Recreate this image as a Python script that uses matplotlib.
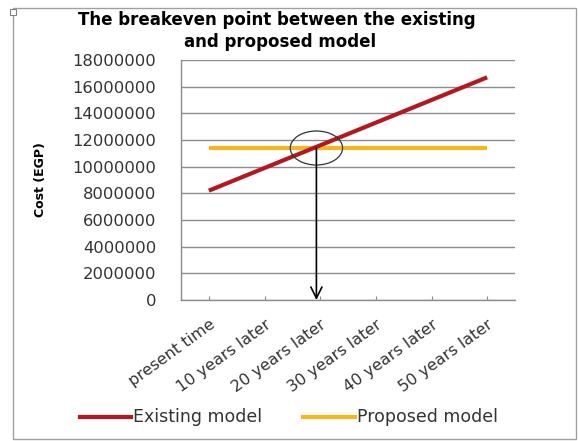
import matplotlib
matplotlib.use("Agg")
import matplotlib.pyplot as plt
from matplotlib.patches import Ellipse, Rectangle
import numpy as np

categories = ["present time", "10 years later", "20 years later",
              "30 years later", "40 years later", "50 years later"]
existing = [8200000, 9900000, 11600000, 13300000, 15000000, 16700000]
proposed = [11400000, 11400000, 11400000, 11400000, 11400000, 11400000]
yticks = [0, 2000000, 4000000, 6000000, 8000000, 10000000,
          12000000, 14000000, 16000000, 18000000]

RED = "#b5171e"
YEL = "#f4b81c"
GRID = "#8c8c8c"
FONT = ["DejaVu Sans"]

fig = plt.figure(figsize=(5.78, 4.41), dpi=100)
fig.patch.set_facecolor("white")
ax = fig.add_axes([181/578, 1-300/441, (515-181)/578, (300-60)/441])

x = np.arange(len(categories))
ax.plot(x, existing, color=RED, lw=3, solid_capstyle="butt", zorder=3)
ax.plot(x, proposed, color=YEL, lw=3, solid_capstyle="butt", zorder=2)

ax.set_xlim(-0.5, len(categories) - 0.5)
ax.set_ylim(0, 18000000)
ax.set_yticks(yticks)
ax.set_yticklabels([str(v) for v in yticks], fontsize=11.8, family=FONT, color="#333333")
ax.tick_params(axis="y", length=0, pad=18)
ax.set_xticks(x)
ax.set_xticklabels(categories, rotation=36, ha="right", rotation_mode="anchor",
                   fontsize=11.5, family=FONT, color="#333333")
ax.tick_params(axis="x", direction="in", length=3, color=GRID, pad=12)
ax.yaxis.grid(True, color=GRID, lw=1)
ax.set_axisbelow(True)
for s in ["top", "right"]:
    ax.spines[s].set_visible(False)
for s in ["left", "bottom"]:
    ax.spines[s].set_color(GRID)
    ax.spines[s].set_linewidth(1)
ax.set_ylabel("Cost (EGP)", fontsize=9, family=FONT, fontweight="bold")
ax.yaxis.set_label_coords((47-181)/(515-181), 0.5)

# breakeven point from data
slope = existing[1] - existing[0]
bx = (proposed[0] - existing[0]) / slope
by = proposed[0]
ax.add_patch(Ellipse((bx + 0.05, by), 0.94, 2550000, fill=False, ec="#333333", lw=0.9, zorder=4))
ax.annotate("", xy=(bx + 0.05, 0), xytext=(bx + 0.05, by),
            arrowprops=dict(arrowstyle="->", color="black", lw=1.2,
                            mutation_scale=20, shrinkA=0, shrinkB=0), zorder=5)

fig.text(277/578, 1-20/441, "The breakeven point between the existing",
         ha="center", va="center", fontsize=12, fontweight="bold", family=FONT)
fig.text(280/578, 1-42/441, "and proposed model",
         ha="center", va="center", fontsize=12, fontweight="bold", family=FONT)

# legend
ly = 1 - 417/441
fig.add_artist(plt.Line2D([80/578, 131/578], [ly, ly], color=RED, lw=3))
fig.text(133/578, ly, "Existing model", ha="left", va="center", fontsize=12.5, family=FONT,
         color="#333333")
fig.add_artist(plt.Line2D([303/578, 355/578], [ly, ly], color=YEL, lw=3))
fig.text(357/578, ly, "Proposed model", ha="left", va="center", fontsize=12.5, family=FONT,
         color="#333333")

# outer frame
fig.add_artist(Rectangle((13/578, 2/441), (576-13)/578, (433-2)/441, fill=False,
                         ec="#a0a0a0", lw=1, transform=fig.transFigure))
fig.add_artist(Rectangle((10/578, 1-15/441), 6/578, 6/441, fill=True, fc="white",
                         ec="#808080", lw=0.8, transform=fig.transFigure))

fig.savefig("out.png", dpi=100)
